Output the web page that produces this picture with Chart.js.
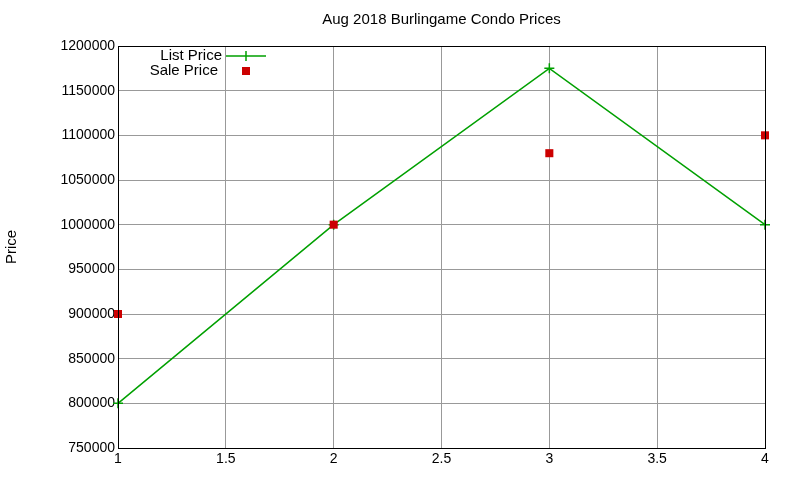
<!DOCTYPE html>
<html><head><script src="https://cdn.jsdelivr.net/npm/chart.js@4"></script>
<style>body{margin:0;background:#fff}</style></head>
<body><canvas id="c" width="800" height="480"></canvas>
<script>
const xs = [1, 2, 3, 4];
const listPrice = [800000, 1000000, 1175000, 1000000];
const salePrice = [900000, 1000000, 1080000, 1100000];
const GREEN = '#00a000', RED = '#cc0000';
const FONT = '15px "Liberation Sans", Arial';

const decor = {
  id: 'decor',
  afterDraw(chart) {
    const { ctx, chartArea: a } = chart;
    ctx.save();
    ctx.strokeStyle = '#000'; ctx.lineWidth = 1; ctx.setLineDash([]);
    ctx.strokeRect(a.left + 0.5, a.top + 0.5, a.right - a.left, a.bottom - a.top);
    ctx.fillStyle = '#000'; ctx.font = FONT;
    ctx.textAlign = 'center'; ctx.textBaseline = 'middle';
    ctx.fillText('Aug 2018 Burlingame Condo Prices', (a.left + a.right) / 2, 20);
    ctx.save(); ctx.translate(12, 247); ctx.rotate(-Math.PI / 2);
    ctx.fillText('Price', 0, 0); ctx.restore();
    // legend
    ctx.textAlign = 'right';
    ctx.fillText('List Price', 222, 56);
    ctx.fillText('Sale Price', 218, 71);
    ctx.strokeStyle = GREEN; ctx.lineWidth = 1.5;
    ctx.beginPath(); ctx.moveTo(226, 56); ctx.lineTo(266, 56);
    ctx.moveTo(246, 51); ctx.lineTo(246, 61); ctx.stroke();
    ctx.fillStyle = RED; ctx.fillRect(242, 67, 8, 8);
    ctx.restore();
  }
};

new Chart(document.getElementById('c'), {
  type: 'scatter',
  data: {
    datasets: [{
      label: 'List Price', order: 2, clip: false,
      data: xs.map((x, i) => ({ x, y: listPrice[i] })),
      showLine: true, borderColor: GREEN, backgroundColor: GREEN, borderWidth: 1.5,
      pointStyle: 'cross', pointRadius: 5, pointBorderWidth: 1.5
    }, {
      label: 'Sale Price', order: 1, clip: false,
      data: xs.map((x, i) => ({ x, y: salePrice[i] })),
      showLine: false, borderColor: RED, backgroundColor: RED,
      pointStyle: 'rect', pointRadius: 5.7, pointBorderWidth: 0
    }]
  },
  options: {
    responsive: false, animation: false,
    layout: { padding: { top: 46, right: 35, left: 0, bottom: 0 } },
    plugins: { legend: { display: false }, tooltip: { enabled: false } },
    scales: {
      x: {
        type: 'linear', min: 1, max: 4,
        ticks: { stepSize: 0.5, color: '#000', font: { family: '"Liberation Sans", Arial', size: 14 }, maxRotation: 0,
          callback: v => String(v) },
        grid: { color: '#999', drawTicks: false },
        border: { display: false },
        afterFit(s) { s.height = 32; }
      },
      y: {
        min: 750000, max: 1200000,
        ticks: { stepSize: 50000, color: '#000', font: { family: '"Liberation Sans", Arial', size: 14 },
          callback: v => String(v) },
        grid: { color: '#999', drawTicks: false },
        border: { display: false },
        afterFit(s) { s.width = 118; }
      }
    }
  },
  plugins: [decor]
});
</script></body></html>
